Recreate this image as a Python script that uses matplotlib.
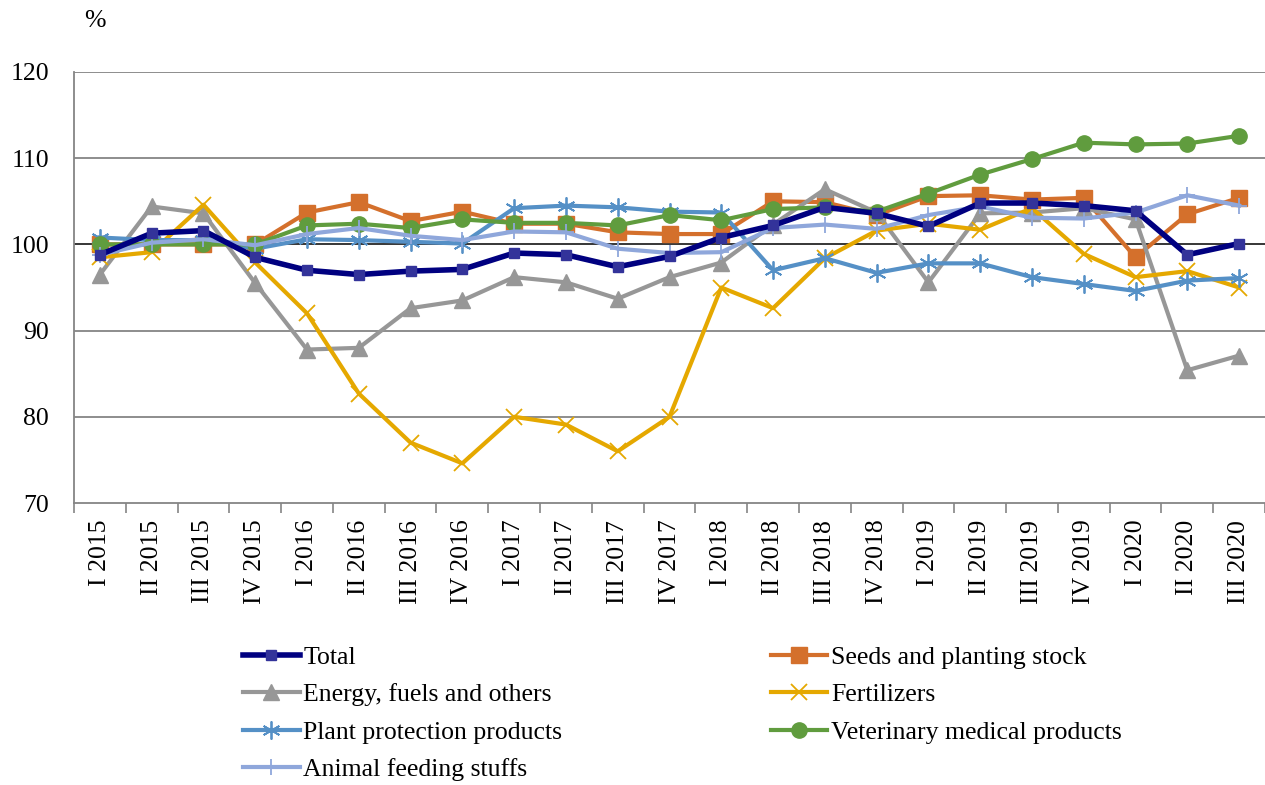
import matplotlib.pyplot as plt
import numpy as np

plt.rcParams['font.family'] = ['Liberation Serif', 'DejaVu Serif']

quarters = ['I 2015', 'II 2015', 'III 2015', 'IV 2015',
            'I 2016', 'II 2016', 'III 2016', 'IV 2016',
            'I 2017', 'II 2017', 'III 2017', 'IV 2017',
            'I 2018', 'II 2018', 'III 2018', 'IV 2018',
            'I 2019', 'II 2019', 'III 2019', 'IV 2019',
            'I 2020', 'II 2020', 'III 2020']

total = [98.8, 101.3, 101.6, 98.5, 97.0, 96.5, 96.9, 97.1, 99.0, 98.8, 97.4, 98.6,
         100.8, 102.2, 104.3, 103.6, 102.1, 104.8, 104.8, 104.5, 103.9, 98.8, 100.1]
seeds = [100.0, 100.0, 100.0, 100.0, 103.7, 104.9, 102.7, 103.8, 102.4, 102.4, 101.4, 101.2,
         101.2, 105.0, 104.9, 103.4, 105.6, 105.7, 105.2, 105.4, 98.5, 103.5, 105.4]
energy = [96.5, 104.4, 103.6, 95.5, 87.8, 88.0, 92.6, 93.5, 96.2, 95.6, 93.7, 96.2,
          97.9, 102.3, 106.4, 103.7, 95.6, 103.6, 103.7, 104.2, 102.9, 85.4, 87.1]
fertilizers = [98.5, 99.1, 104.6, 97.9, 92.0, 82.7, 77.0, 74.6, 80.0, 79.1, 76.0, 80.0,
               95.0, 92.6, 98.4, 101.6, 102.4, 101.7, 104.2, 98.9, 96.2, 96.9, 95.0]
plant_protection = [100.8, 100.5, 100.5, 99.5, 100.6, 100.5, 100.3, 100.1, 104.2, 104.5, 104.3, 103.8,
                    103.7, 97.0, 98.4, 96.7, 97.8, 97.8, 96.2, 95.4, 94.6, 95.8, 96.1]
veterinary = [100.0, 100.0, 100.0, 100.0, 102.2, 102.4, 101.9, 102.9, 102.5, 102.5, 102.2, 103.4,
              102.8, 104.1, 104.3, 103.8, 105.9, 108.1, 109.9, 111.8, 111.6, 111.7, 112.6]
feeding = [98.8, 100.2, 100.6, 99.9, 101.2, 101.9, 101.0, 100.5, 101.5, 101.4, 99.5, 99.0,
           99.1, 101.9, 102.3, 101.8, 103.4, 104.4, 103.1, 103.0, 103.7, 105.7, 104.5]

fig = plt.figure(figsize=(12.65, 7.85), dpi=100)
ax = fig.add_axes([74 / 1265, 1 - 503 / 785, 1 - 74 / 1265, (503 - 72) / 785])

x = np.arange(len(quarters))
grid_col = '#858585'

for yv in [80, 90, 110, 120]:
    ax.axhline(yv, color=grid_col, lw=1.3, zorder=0)
ax.axhline(100, color='black', lw=1.1, zorder=0)

ax.plot(x, seeds, color='#D4702C', lw=3, marker='s', ms=11,
        mfc='#D4702C', mec='#D4702C', label='Seeds and planting stock', zorder=3)
ax.plot(x, energy, color='#979797', lw=3, marker='^', ms=11,
        mfc='#979797', mec='#979797', label='Energy, fuels and others', zorder=3)
ax.plot(x, fertilizers, color='#E5A800', lw=3, marker='x', ms=11, mew=1.3,
        mec='#E5A800', label='Fertilizers', zorder=3)
ax.plot(x, plant_protection, color='#5590C6', lw=3, marker=(6, 2, 0), ms=13, mew=1.3,
        mec='#5590C6', label='Plant protection products', zorder=3)
ax.plot(x, veterinary, color='#609C3E', lw=3, marker='o', ms=11,
        mfc='#609C3E', mec='#609C3E', label='Veterinary medical products', zorder=3)
ax.plot(x, feeding, color='#8FA7DB', lw=3, marker='+', ms=12, mew=1.3,
        mec='#8FA7DB', label='Animal feeding stuffs', zorder=3)
ax.plot(x, total, color='#000080', lw=4, marker='s', ms=7,
        mfc='#33339A', mec='#33339A', label='Total', zorder=4)

ax.set_xlim(-0.5, len(quarters) - 0.5)
ax.set_ylim(70, 120)
ax.set_yticks([70, 80, 90, 100, 110, 120])
ax.tick_params(axis='y', length=0, labelsize=18.5, pad=18)
ax.set_xticks(x)
ax.set_xticklabels(quarters, rotation=90, fontsize=18.5)
ax.set_xticks(np.arange(len(quarters) + 1) - 0.5, minor=True)
ax.tick_params(axis='x', which='major', length=0, pad=12)
ax.tick_params(axis='x', which='minor', length=7, width=1.2, color=grid_col, direction='out')

for s in ['top', 'right']:
    ax.spines[s].set_visible(False)
for s in ['left', 'bottom']:
    ax.spines[s].set_color(grid_col)
    ax.spines[s].set_linewidth(1.3)

fig.text(95 / 1265, 1 - 21 / 785, '%', fontsize=18.5, ha='center', va='center')

h, l = ax.get_legend_handles_labels()
order = ['Total', 'Energy, fuels and others', 'Plant protection products', 'Animal feeding stuffs',
         'Seeds and planting stock', 'Fertilizers', 'Veterinary medical products']
hl = dict(zip(l, h))
fig.legend([hl[k] for k in order], order, ncol=2, loc='upper left',
           bbox_to_anchor=(243 / 1265, 1 - 646 / 785), frameon=False,
           fontsize=18.5, handlelength=2.2, handletextpad=0.15,
           columnspacing=8.1, labelspacing=0.56, borderaxespad=0, borderpad=0)

fig.savefig('out.png', dpi=100)
